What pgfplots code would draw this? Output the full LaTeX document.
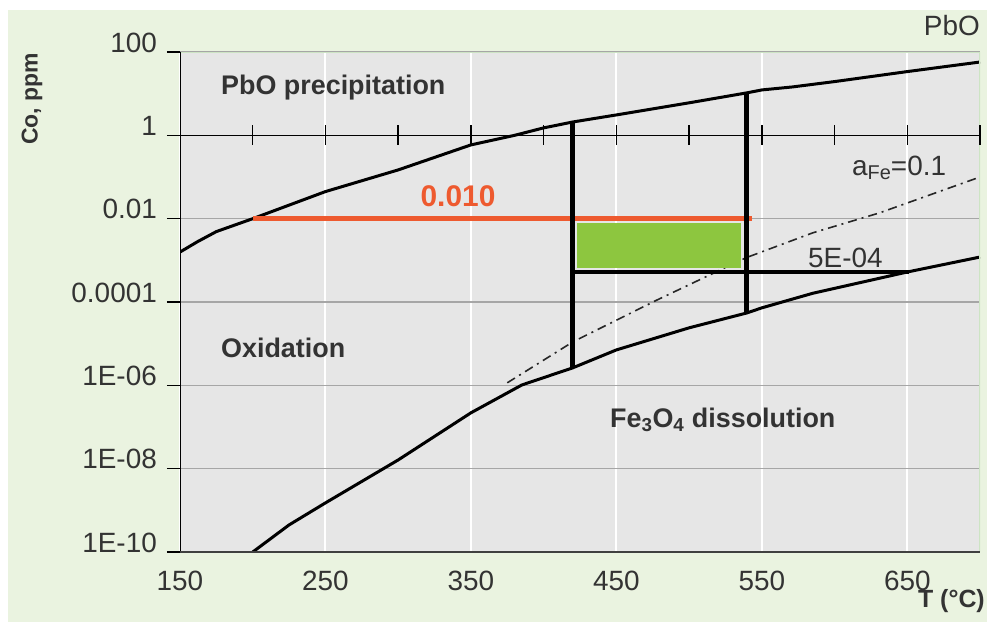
\documentclass[border=0pt]{standalone}
\usepackage{fontspec}
\setmainfont{Liberation Sans}
\usepackage{pgfplots}
\pgfplotsset{compat=1.18}

\definecolor{outerbg}{RGB}{234,243,224}
\definecolor{plotbg}{RGB}{230,230,230}
\definecolor{redline}{RGB}{238,90,47}
\definecolor{boxgreen}{RGB}{141,198,63}
\definecolor{txt}{RGB}{51,51,51}
\definecolor{frame}{RGB}{205,228,196}

\newcommand{\fs}[1]{\fontsize{#1}{#1}\selectfont}

\begin{document}
\begin{tikzpicture}
\path[use as bounding box] (0bp,0bp) rectangle (987bp,-624bp);
\fill[outerbg] (8bp,-10bp) rectangle (987bp,-622bp);
\begin{axis}[
    at={(180bp,-552bp)}, anchor=south west,
    scale only axis, width=800bp, height=500bp,
    xmin=150, xmax=700,
    ymode=log, ymin=1e-10, ymax=100,
    xtick={150,250,350,450,550,650},
    xticklabels={150,250,350,450,550,650},
    ytick={1e-10,1e-8,1e-6,1e-4,1e-2,1,100},
    yticklabels={1E-10,1E-08,1E-06,0.0001,0.01,1,100},
    yminorticks=false,
    tick label style={font=\fs{28}, text=txt},
    yticklabel style={anchor=base east, inner sep=0pt, xshift=-10bp},
    xticklabel style={anchor=base, inner sep=0pt, yshift=-25bp},
    axis background/.style={fill=plotbg},
    axis line style={draw=none},
    grid=major,
    x grid style={white, line width=2bp},
    y grid style={black!35, line width=1.2bp},
    xtick style={draw=none},
    ytick pos=left, tick align=outside, major tick length=13bp,
    ytick style={black, line width=1.5bp},
]
% y = 1 line with crossing ticks
\addplot[black, line width=1.5bp] coordinates {(150,1) (700,1)};
\addplot[only marks, mark=|, mark size=10bp, mark options={black, line width=1.5bp}]
    coordinates {(200,1) (250,1) (300,1) (350,1) (400,1) (450,1) (500,1) (550,1) (600,1) (650,1) (700,1)};

% PbO precipitation boundary
\addplot[black, line width=3bp] coordinates {
    (150,1.58e-3) (162,2.8e-3) (175,4.9e-3) (200,1e-2) (250,4.47e-2) (300,0.148) (350,0.589)
    (380,1.0) (400,1.51) (420,2.09) (450,3.09) (500,6.03) (540,10.5) (550,12.3)
    (571,14.5) (600,19.5) (650,33.9) (700,57.5)
};
% Fe3O4 dissolution boundary
\addplot[black, line width=3bp] coordinates {
    (200,1e-10) (225,4.47e-10) (250,1.51e-9) (300,1.62e-8) (350,2.19e-7)
    (385,1.02e-6) (420,2.63e-6) (450,7.08e-6) (500,2.40e-5) (540,5.50e-5)
    (550,7.24e-5) (585,1.62e-4) (650,5.25e-4) (700,1.20e-3)
};
% a_Fe = 0.1
\addplot[black!85, line width=1.6bp, dash pattern=on 9bp off 5bp on 2bp off 5bp] coordinates {
    (375,1.15e-6) (420,1.10e-5) (478,1.12e-4) (539,1.15e-3) (585,4.57e-3) (631,1.38e-2) (700,0.1)
};

% window
\addplot[fill=boxgreen, draw=none] coordinates {
    (423,7.9e-3) (536,7.9e-3) (536,6.6e-4) (423,6.6e-4)
} -- cycle;
\addplot[redline, line width=5bp] coordinates {(200,1e-2) (543,1e-2)};
\addplot[black, line width=5bp] coordinates {(420,2.09) (420,2.63e-6)};
\addplot[black, line width=5bp] coordinates {(539.5,10.5) (539.5,5.5e-5)};
\addplot[black, line width=4.5bp] coordinates {(420,5.2e-4) (651,5.2e-4)};

% frame
\draw[frame, line width=2bp] (rel axis cs:0,1) -- (rel axis cs:1,1) -- (rel axis cs:1,0);
\draw[black, line width=2bp] (rel axis cs:0,1) -- (rel axis cs:0,0);
\draw[black!75, line width=2.5bp] (rel axis cs:0,0) -- (rel axis cs:1,0);
\end{axis}

\begin{scope}[x=1bp, y=-1bp]
\node[anchor=west, font=\bfseries\fs{27}, text=txt, inner sep=0pt] at (221,88) {PbO precipitation};
\node[anchor=west, font=\bfseries\fs{27}, text=txt, inner sep=0pt] at (221,348) {Oxidation};
\node[anchor=west, font=\bfseries\fs{27}, text=txt, inner sep=0pt] at (610,420) {Fe\textsubscript{3}O\textsubscript{4} dissolution};
\node[font=\bfseries\fs{30}, text=redline, inner sep=0pt] at (458,196) {0.010};
\node[anchor=base west, font=\fs{28}, text=txt, inner sep=0pt] at (852,175) {a\raisebox{-4bp}{\fs{20}Fe}=0.1};
\node[anchor=base west, font=\fs{28}, text=txt, inner sep=0pt] at (808,267) {5E-04};
\node[anchor=base east, font=\fs{28}, text=txt, inner sep=0pt] at (980,35) {PbO};
\node[anchor=base east, font=\bfseries\fs{25}, text=txt, inner sep=0pt] at (985,607) {T (\textdegree C)};
\node[rotate=90, font=\bfseries\fs{23}, text=txt, inner sep=0pt] at (32,99) {Co, ppm};
\end{scope}
\end{tikzpicture}
\end{document}
